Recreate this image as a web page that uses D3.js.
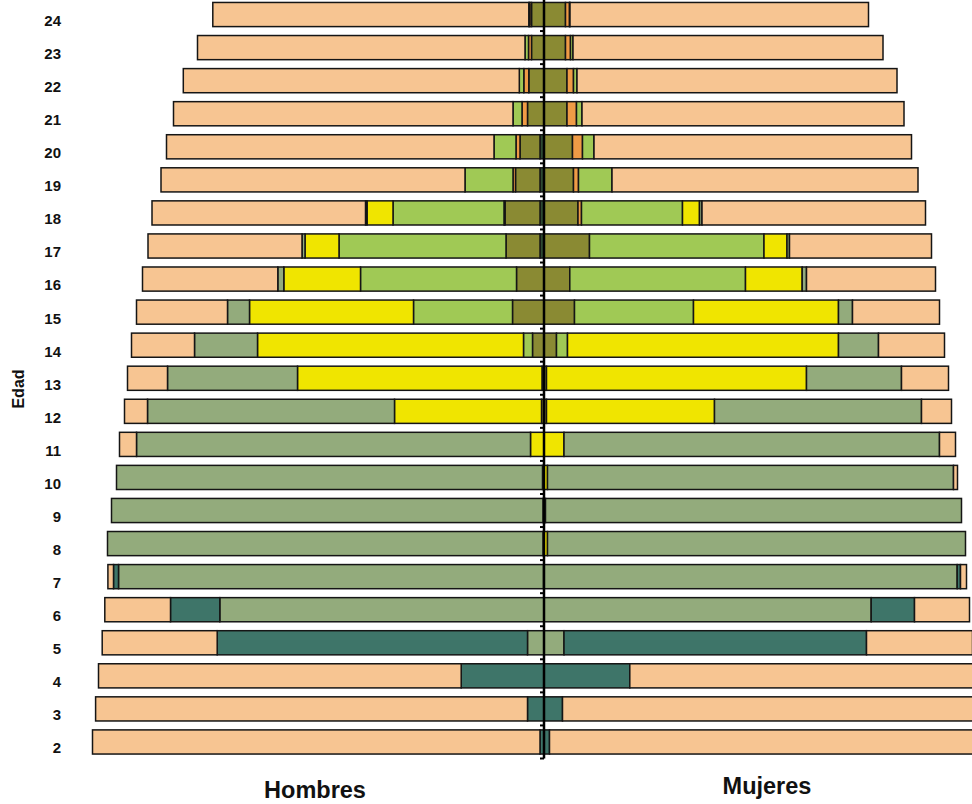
<!DOCTYPE html>
<html>
<head>
<meta charset="utf-8">
<script src="https://cdn.jsdelivr.net/npm/d3@7"></script>
<style>
  body { margin: 0; background: #fff; }
  svg { display: block; font-family: "Liberation Sans", Arial, sans-serif; }
</style>
</head>
<body>
<div id="chart"></div>
<script>
// edades, de arriba hacia abajo
const ages = [24, 23, 22, 21, 20, 19, 18, 17, 16, 15, 14, 13, 12, 11, 10, 9, 8, 7, 6, 5, 4, 3, 2];

// niveles, desde el centro hacia afuera
const levels = ["posgrado", "universidad", "terciaria", "bachillerato", "cicloBasico", "primaria", "inicial", "noAsiste"];
const levelColors = ["#2e4a33", "#8a8a33", "#ef9b46", "#a0c955", "#f0e500", "#93ab7c", "#3e7569", "#f7c592"];

// Hombres
const hPosgrado     = [0, 0, 0, 0, 4, 4, 4, 4, 0, 0, 0, 0, 0, 0, 0, 0, 0, 0, 0, 0, 0, 0, 0];
const hUniversidad  = [12.5, 12.5, 15.2, 16.5, 20, 24.5, 35, 34, 27.5, 31.5, 11.5, 2, 2.5, 0, 0, 0, 0, 0, 0, 0, 0, 0, 0];
const hTerciaria    = [1.7, 3, 5, 5.5, 4, 2.5, 1, 0, 0, 0, 0, 0, 0, 0, 0, 0, 0, 0, 0, 0, 0, 0, 0];
const hBachillerato = [1, 3.5, 4.5, 9, 22, 48, 111, 167, 156, 99, 9, 0, 0, 0, 0, 0, 0, 0, 0, 0, 0, 0, 0];
const hCicloBasico  = [0, 0, 0, 0, 0, 0, 26, 34, 76.7, 164, 266, 244.5, 147, 13.5, 1.5, 1, 1, 0.5, 0, 0, 0, 0, 0];
const hPrimaria     = [0, 0, 0, 0, 0, 0, 1.5, 3, 6, 22, 63, 130, 247, 394, 426, 431.5, 435.5, 425, 324.2, 16.5, 0, 0, 0];
const hInicial      = [0, 0, 0, 0, 0, 0, 0, 0, 0, 0, 0, 0, 0, 0, 0, 0, 0, 5, 49.3, 310.3, 82.8, 16.5, 4];
const hNoAsiste     = [316, 327.5, 336, 339.5, 327.5, 304, 213.5, 154, 135.3, 91, 63, 40, 23, 17, 0, 0, 0, 5.6, 65.7, 115, 362.7, 431.9, 447.5];

// Mujeres
const mPosgrado     = [0, 0, 0, 0, 0, 0, 0, 0, 0, 0, 0, 0, 0, 0, 0, 0, 0, 0, 0, 0, 0, 0, 0];
const mUniversidad  = [21.5, 21.5, 23, 23, 28.5, 29.5, 34, 45.5, 25.8, 30.5, 12.5, 2.5, 2.5, 0, 0, 0, 0, 0, 0, 0, 0, 0, 0];
const mTerciaria    = [4, 5, 6.5, 9.5, 10, 5, 3.5, 0, 0, 0, 0, 0, 0, 0, 0, 0, 0, 0, 0, 0, 0, 0, 0];
const mBachillerato = [0.5, 2.5, 3.5, 5.5, 11.5, 33.5, 101, 174.5, 175.7, 119, 11, 0, 0, 0, 0, 0, 0, 0, 0, 0, 0, 0, 0];
const mCicloBasico  = [0, 0, 0, 0, 0, 0, 17, 23, 56.7, 145, 271, 260, 168, 20, 3.5, 1.5, 3.5, 0, 0, 0, 0, 0, 0];
const mPrimaria     = [0, 0, 0, 0, 0, 0, 2.5, 2.5, 4.3, 14, 40, 95, 207, 375.5, 406, 416, 418, 413.2, 327.2, 20, 0, 0, 0];
const mInicial      = [0, 0, 0, 0, 0, 0, 0, 0, 0, 0, 0, 0, 0, 0, 0, 0, 0, 3.3, 43.3, 302.5, 85.8, 18.5, 5.5];
const mNoAsiste     = [298.5, 310, 320, 322, 317.5, 306, 223.5, 142, 129, 87, 66, 47, 30, 16, 4, 0, 0, 6, 55, 106, 346, 416.5, 433];

const hombresSeries = [hPosgrado, hUniversidad, hTerciaria, hBachillerato, hCicloBasico, hPrimaria, hInicial, hNoAsiste];
const mujeresSeries = [mPosgrado, mUniversidad, mTerciaria, mBachillerato, mCicloBasico, mPrimaria, mInicial, mNoAsiste];

const width = 972, height = 804;
const center = 544;

const svg = d3.select("#chart").append("svg")
    .attr("width", width)
    .attr("height", height);

const y = d3.scaleBand()
    .domain(ages)
    .range([-2, 758.5])
    .paddingInner(0.27)
    .paddingOuter(0.135);

const xLeft = d3.scaleLinear().domain([0, 460]).range([center, center - 460]);
const xRight = d3.scaleLinear().domain([0, 460]).range([center, center + 460]);

const color = d3.scaleOrdinal().domain(levels).range(levelColors);

function toRows(series) {
    return ages.map((age, i) => {
        const row = { age };
        levels.forEach((k, j) => { row[k] = series[j][i]; });
        return row;
    });
}

const stack = d3.stack().keys(levels);
const hStack = stack(toRows(hombresSeries));
const mStack = stack(toRows(mujeresSeries));

function drawSide(stacked, side) {
    const g = svg.append("g").attr("class", side);
    const layer = g.selectAll("g")
        .data(stacked)
        .join("g")
        .attr("fill", d => color(d.key));

    layer.selectAll("rect")
        .data(d => d.filter(p => p[1] - p[0] > 0))
        .join("rect")
        .attr("y", d => y(d.data.age))
        .attr("height", y.bandwidth())
        .attr("x", d => side === "left" ? xLeft(d[1]) : xRight(d[0]))
        .attr("width", d => side === "left" ? xLeft(d[0]) - xLeft(d[1]) : xRight(d[1]) - xRight(d[0]))
        .attr("stroke", "#151515")
        .attr("stroke-width", 1.5);
}

drawSide(hStack, "left");
drawSide(mStack, "right");

// eje vertical central con marcas entre categorías
const [r0, r1] = y.range();
const step = y.step();
svg.append("line")
    .attr("x1", center).attr("x2", center)
    .attr("y1", r0).attr("y2", r1)
    .attr("stroke", "#000")
    .attr("stroke-width", 2.5);

svg.append("g").selectAll("line")
    .data(d3.range(ages.length + 1))
    .join("line")
    .attr("x1", center - 4).attr("x2", center)
    .attr("y1", i => r0 + i * step)
    .attr("y2", i => r0 + i * step)
    .attr("stroke", "#000")
    .attr("stroke-width", 2);

// etiquetas de edad a la izquierda
svg.append("g").selectAll("text")
    .data(ages)
    .join("text")
    .attr("x", 61)
    .attr("y", d => y(d) + y.bandwidth() / 2 + 6)
    .attr("dy", "0.36em")
    .attr("text-anchor", "end")
    .style("font-size", "15px")
    .style("font-weight", "bold")
    .style("fill", "#111")
    .text(d => d);

svg.append("text")
    .attr("transform", "translate(24,389) rotate(-90)")
    .attr("text-anchor", "middle")
    .style("font-size", "16px")
    .style("font-weight", "bold")
    .style("fill", "#111")
    .text("Edad");

svg.append("text")
    .attr("x", 315).attr("y", 798)
    .attr("text-anchor", "middle")
    .style("font-size", "23.5px")
    .style("font-weight", "bold")
    .style("fill", "#111")
    .text("Hombres");

svg.append("text")
    .attr("x", 767).attr("y", 794)
    .attr("text-anchor", "middle")
    .style("font-size", "23.5px")
    .style("font-weight", "bold")
    .style("fill", "#111")
    .text("Mujeres");
</script>
</body>
</html>
